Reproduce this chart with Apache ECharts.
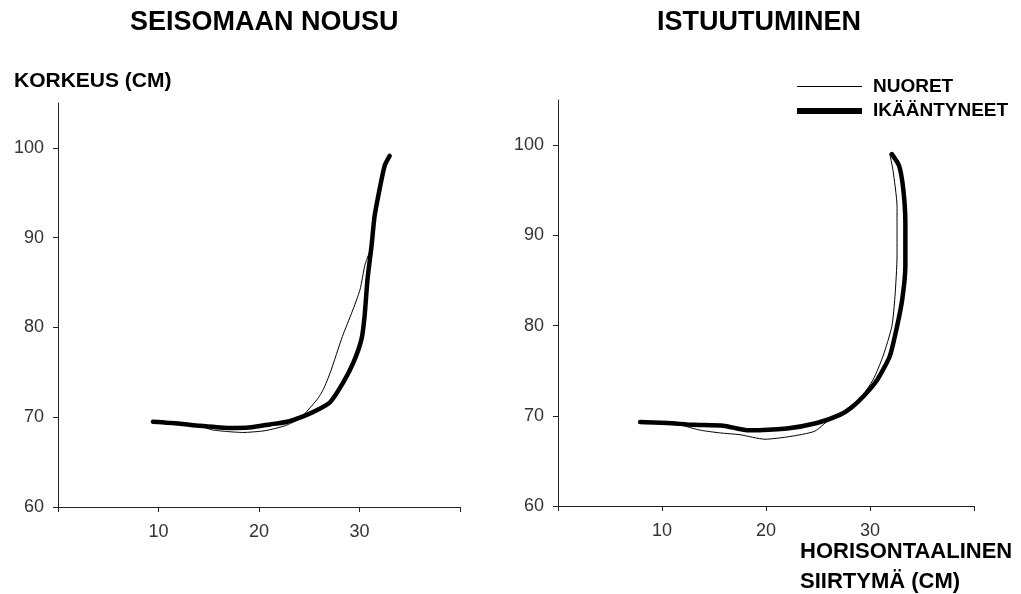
<!DOCTYPE html>
<html>
<head>
<meta charset="utf-8">
<script src="https://cdn.jsdelivr.net/npm/echarts@6/dist/echarts.min.js"></script>
<style>
html,body{margin:0;padding:0;background:#fff;}
#c{width:1021px;height:594px;}
</style>
</head>
<body>
<div id="c"></div>
<script>
// ---- data ----
var titleLeft = 'SEISOMAAN NOUSU';
var titleRight = 'ISTUUTUMINEN';
var yAxisName = 'KORKEUS (CM)';
var xAxisName1 = 'HORISONTAALINEN';
var xAxisName2 = 'SIIRTYMÄ (CM)';
var seriesNames = ['NUORET', 'IKÄÄNTYNEET'];
var yTicks = [60, 70, 80, 90, 100];
var xTicks = [0, 10, 20, 30, 40];
var xLabels = [10, 20, 30];

// Left panel: standing up
var youngStandX = [9.45, 12.0, 14.1, 15.3, 16.9, 18.4, 20.6, 22.6, 24.1, 25.8, 26.4, 27.1, 28.3, 29.25, 30.05, 30.55, 31.2, 31.5, 32.0, 32.5, 33.0];
var youngStandY = [69.5, 69.3, 69.05, 68.6, 68.4, 68.3, 68.5, 69.05, 69.9, 72.0, 73.1, 75.0, 79.0, 81.7, 84.2, 87.0, 89.1, 92.4, 95.4, 98.0, 99.1];
var oldStandX = [9.45, 12.0, 14.1, 17.1, 19.0, 21.1, 22.8, 24.4, 25.8, 27.1, 28.4, 29.4, 30.2, 30.5, 30.8, 31.2, 31.5, 32.0, 32.5, 33.0];
var oldStandY = [69.5, 69.3, 69.05, 68.8, 68.85, 69.2, 69.5, 70.1, 70.8, 71.7, 73.9, 76.1, 78.7, 81.2, 85.4, 89.1, 92.4, 95.4, 98.0, 99.1];

// Right panel: sitting down
var youngSitX = [7.9, 10.5, 12.0, 13.7, 15.6, 17.5, 19.9, 22.3, 24.7, 26.4, 27.3, 29.1, 30.3, 31.25, 32.1, 32.4, 32.6, 32.6, 32.6, 32.2, 31.9];
var youngSitY = [69.3, 69.1, 68.9, 68.4, 68.1, 67.9, 67.4, 67.7, 68.3, 69.9, 70.4, 72.0, 74.0, 76.6, 79.9, 83.2, 87.7, 90.5, 93.2, 97.3, 99.0];
var oldSitX = [7.9, 10.5, 13.0, 15.9, 18.2, 22.0, 24.9, 27.1, 28.2, 29.4, 30.7, 31.9, 32.6, 33.1, 33.4, 33.4, 33.2, 32.8, 32.1];
var oldSitY = [69.3, 69.2, 69.0, 68.9, 68.4, 68.6, 69.2, 70.1, 70.9, 72.2, 74.0, 76.6, 79.9, 82.9, 86.6, 91.4, 95.1, 97.7, 99.0];

function zip(xs, ys) { return xs.map(function (x, i) { return [x, ys[i]]; }); }

var FONT = '"Liberation Sans", Arial, sans-serif';

function xAxisCfg(gi) {
  return {
    type: 'value', gridIndex: gi, min: 0, max: 40, interval: 10,
    axisLine: { show: true, lineStyle: { color: '#222', width: 1 } },
    axisTick: { show: true, length: 5, inside: false, customValues: xTicks, lineStyle: { color: '#222' } },
    axisLabel: { show: true, customValues: xLabels, margin: 16, fontFamily: FONT, fontSize: 18, color: '#333' },
    splitLine: { show: false }
  };
}
function yAxisCfg(gi) {
  return {
    type: 'value', gridIndex: gi, min: 60, max: 105, interval: 10,
    axisLine: { show: true, lineStyle: { color: '#222', width: 1 } },
    axisTick: { show: true, length: 5, inside: false, customValues: yTicks, lineStyle: { color: '#222' } },
    axisLabel: { show: true, customValues: yTicks, margin: 14, fontFamily: FONT, fontSize: 18, color: '#333' },
    splitLine: { show: false }
  };
}
function lineSeries(name, gi, data, w) {
  return {
    name: name, type: 'line', xAxisIndex: gi, yAxisIndex: gi, data: data,
    showSymbol: false, symbol: 'none', smooth: 0.2,
    lineStyle: { color: '#000', width: w, cap: 'round', join: 'round' },
    itemStyle: { color: '#000' },
    animation: false
  };
}

var chart = echarts.init(document.getElementById('c'), null, { renderer: 'canvas' });
chart.setOption({
  backgroundColor: '#fff',
  animation: false,
  grid: [
    { left: 58, top: 103, width: 402, height: 404 },
    { left: 558, top: 100, width: 416, height: 406 }
  ],
  xAxis: [xAxisCfg(0), xAxisCfg(1)],
  yAxis: [yAxisCfg(0), yAxisCfg(1)],
  legend: [
    {
      data: [seriesNames[0]], left: 797, top: 76, padding: 0, icon: 'rect',
      itemWidth: 65, itemHeight: 1, selectedMode: false,
      textStyle: { fontFamily: FONT, fontSize: 19, fontWeight: 'bold', color: '#000', lineHeight: 21, padding: [0, 0, 0, 6] }
    },
    {
      data: [seriesNames[1]], left: 797, top: 100.5, padding: 0, icon: 'rect',
      itemWidth: 65, itemHeight: 6, selectedMode: false,
      textStyle: { fontFamily: FONT, fontSize: 19, fontWeight: 'bold', color: '#000', lineHeight: 21, padding: [0, 0, 0, 6] }
    }
  ],
  graphic: [
    { type: 'text', left: 264 - 134, top: 9, style: { text: titleLeft, font: 'bold 27px ' + FONT, fill: '#000' } },
    { type: 'text', left: 762 - 105, top: 9, style: { text: titleRight, font: 'bold 27px ' + FONT, fill: '#000' } },
    { type: 'text', left: 14, top: 71, style: { text: yAxisName, font: 'bold 21px ' + FONT, fill: '#000' } },
    { type: 'text', left: 800, top: 541, style: { text: xAxisName1, font: 'bold 22px ' + FONT, fill: '#000' } },
    { type: 'text', left: 800, top: 571, style: { text: xAxisName2, font: 'bold 22px ' + FONT, fill: '#000' } }
  ],
  series: [
    lineSeries(seriesNames[0], 0, zip(youngStandX, youngStandY), 1),
    lineSeries(seriesNames[1], 0, zip(oldStandX, oldStandY), 4.5),
    lineSeries(seriesNames[0], 1, zip(youngSitX, youngSitY), 1),
    lineSeries(seriesNames[1], 1, zip(oldSitX, oldSitY), 4.5)
  ]
});
</script>
</body>
</html>
